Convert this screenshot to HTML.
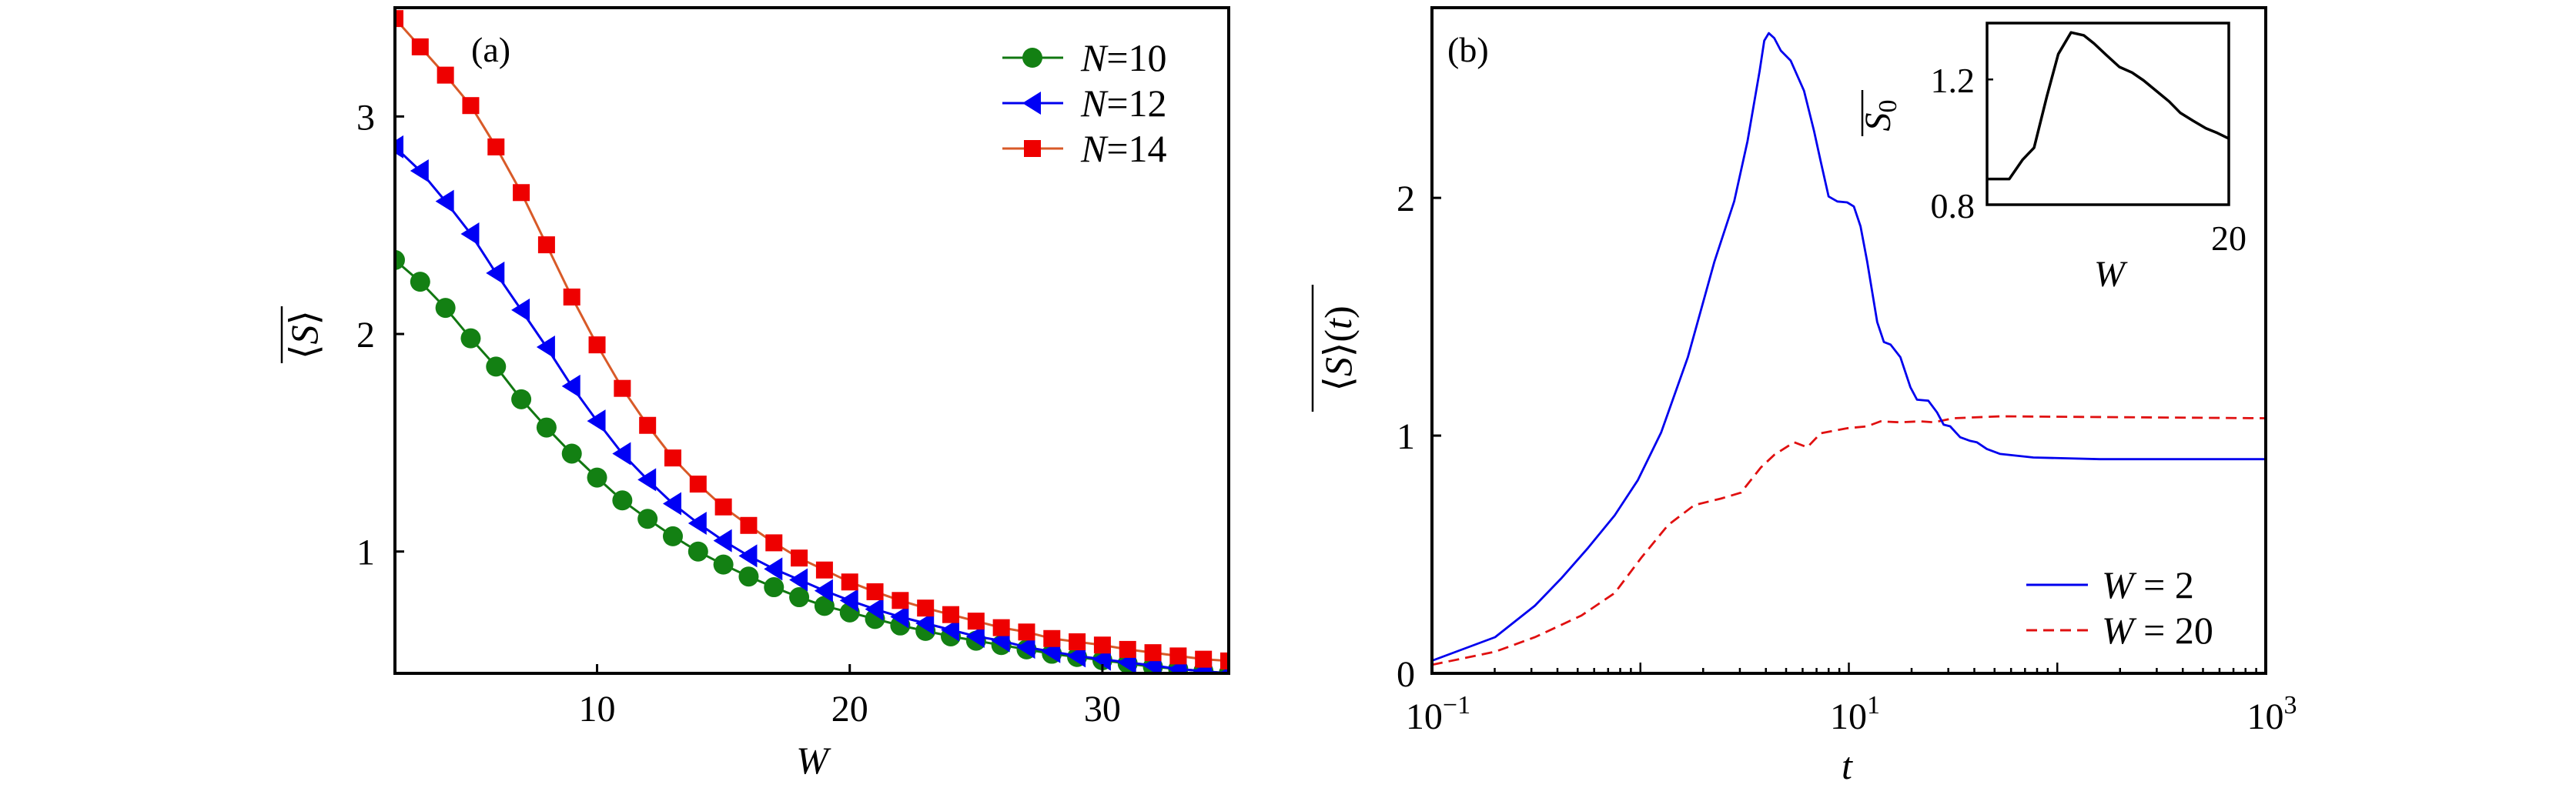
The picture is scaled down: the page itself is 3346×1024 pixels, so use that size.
<!DOCTYPE html>
<html><head><meta charset="utf-8"><style>
html,body{margin:0;padding:0;background:#fff;}
svg{display:block;font-family:"Liberation Serif",serif;}
</style></head><body>
<svg id="fig" width="3346" height="1024" viewBox="0 0 3346 1024" xmlns="http://www.w3.org/2000/svg" font-family="Liberation Serif, serif">
<g id="pa"></g>
<g id="pb"></g>
<g id="pi"></g>
</svg>
<script>
// Panel (a) data
const wValues = [2,3,4,5,6,7,8,9,10,11,12,13,14,15,16,17,18,19,20,21,22,23,24,25,26,27,28,29,30,31,32,33,34,35];
const sN10 = [2.34,2.24,2.12,1.98,1.85,1.70,1.57,1.45,1.34,1.235,1.15,1.07,1.0,0.94,0.885,0.836,0.79,0.75,0.72,0.69,0.66,0.635,0.61,0.59,0.57,0.55,0.53,0.515,0.50,0.485,0.47,0.46,0.45,0.44];
const sN12 = [2.86,2.75,2.61,2.46,2.28,2.11,1.94,1.76,1.60,1.45,1.33,1.22,1.13,1.05,0.98,0.92,0.87,0.82,0.775,0.735,0.70,0.67,0.64,0.61,0.59,0.56,0.54,0.52,0.505,0.49,0.476,0.46,0.45,0.44];
const sN14 = [3.45,3.32,3.19,3.05,2.86,2.65,2.41,2.17,1.95,1.75,1.58,1.43,1.31,1.205,1.12,1.04,0.97,0.915,0.86,0.815,0.775,0.74,0.71,0.68,0.65,0.63,0.60,0.585,0.57,0.55,0.535,0.52,0.505,0.497];
const aXTicks = [10,20,30];
const aYTicks = [1,2,3];
// Panel (b) data (log10 t, value)
const bLogT = [-1,-0.697,-0.506,-0.378,-0.251,-0.123,-0.012,0.100,0.228,0.355,0.450,0.514,0.572,0.594,0.616,0.642,0.674,0.721,0.785,0.833,0.865,0.903,0.945,0.992,1.024,1.056,1.088,1.136,1.168,1.200,1.247,1.295,1.327,1.381,1.423,1.455,1.486,1.534,1.582,1.614,1.662,1.726,1.885,2.204,3.0];
const bW2 = [0.053,0.152,0.285,0.401,0.528,0.665,0.813,1.014,1.331,1.732,1.986,2.239,2.534,2.661,2.693,2.672,2.619,2.577,2.450,2.281,2.154,2.006,1.985,1.981,1.964,1.880,1.732,1.478,1.394,1.383,1.330,1.204,1.151,1.147,1.098,1.046,1.039,0.993,0.978,0.972,0.944,0.923,0.908,0.901,0.901];
const rLogT = [-1,-0.697,-0.506,-0.283,-0.123,0.004,0.132,0.259,0.387,0.482,0.578,0.642,0.737,0.801,0.865,0.992,1.088,1.152,1.247,1.343,1.407,1.502,1.726,3.0];
const bW20 = [0.036,0.091,0.152,0.243,0.338,0.486,0.623,0.708,0.735,0.760,0.866,0.919,0.972,0.951,1.010,1.031,1.039,1.060,1.056,1.060,1.056,1.073,1.081,1.073];
const bYTicks = [0,1,2];
const bXDecades = [-1,1,3];
// Inset data
const insetW = [1,2.75,3.8,4.7,5.7,6.6,7.6,8.6,9.4,10.4,11.4,12.4,13.3,14.4,15.3,16.2,17.2,18.2,19.1,20];
const insetS = [0.882,0.882,0.944,0.982,1.146,1.281,1.350,1.341,1.315,1.277,1.240,1.222,1.197,1.160,1.130,1.093,1.068,1.044,1.029,1.011];
const insetYTicks = [0.8,1.2];
const insetXTicks = [20];

const NS="http://www.w3.org/2000/svg";
function mk(parent,tag,attrs,text){const e=document.createElementNS(NS,tag);for(const k in attrs)e.setAttribute(k,attrs[k]);if(text!==undefined)e.textContent=text;parent.appendChild(e);return e;}

// ---------- Panel A ----------
const pa=document.getElementById('pa');
const A={l:513,r:1596,t:10,b:875,x0:2,x1:35,y0:0.44,y1:3.5};
const ax=v=>A.l+(v-A.x0)/(A.x1-A.x0)*(A.r-A.l);
const ay=v=>A.b-(v-A.y0)/(A.y1-A.y0)*(A.b-A.t);
function poly(arrX,arrY,fx,fy){return arrX.map((x,i)=>fx(x).toFixed(1)+','+fy(arrY[i]).toFixed(1)).join(' ');}
const cpA=mk(pa,'clipPath',{id:'cpa'});mk(cpA,'rect',{x:A.l,y:A.t,width:A.r-A.l,height:A.b-A.t});
const gA=mk(pa,'g',{'clip-path':'url(#cpa)'});
const series=[{d:sN10,m:'#138013',lc:'#117711',type:'circle',name:'series-n10'},{d:sN12,m:'#0000f5',lc:'#0000ee',type:'tri',name:'series-n12'},{d:sN14,m:'#ee0000',lc:'#d85a28',type:'square',name:'series-n14'}];
function marker(g,type,x,y,col){
  if(type==='circle')return mk(g,'circle',{cx:x,cy:y,r:13,fill:col});
  if(type==='square')return mk(g,'rect',{x:x-11,y:y-11,width:22,height:22,fill:col});
  return mk(g,'polygon',{points:`${x-13},${y} ${x+11},${y-15} ${x+11},${y+15}`,fill:col});
}
series.forEach(s=>{
  const g=mk(gA,'g',{});
  
  
  const l=mk(g,'polyline',{points:poly(wValues,s.d,ax,ay),fill:'none',stroke:s.lc,'stroke-width':3});
  
  
  wValues.forEach((w,i)=>{const m=marker(g,s.type,ax(w),ay(s.d[i]),s.m);
    
    });
});
const frA=mk(pa,'rect',{x:A.l,y:A.t,width:A.r-A.l,height:A.b-A.t,fill:'none',stroke:'#000','stroke-width':4});


aXTicks.forEach(v=>{const x=ax(v);mk(pa,'line',{x1:x,x2:x,y1:A.b,y2:A.b-12,stroke:'#000','stroke-width':3});
  const t=mk(pa,'text',{x:x,y:A.b+62,'font-size':48,'text-anchor':'middle'},String(v));
  
  });
aYTicks.forEach(v=>{const y=ay(v);mk(pa,'line',{x1:A.l,x2:A.l+12,y1:y,y2:y,stroke:'#000','stroke-width':3});
  const t=mk(pa,'text',{x:A.l-26,y:y+17,'font-size':48,'text-anchor':'end'},String(v));
  
  });
let t=mk(pa,'text',{x:1055,y:1005,'font-size':50,'font-style':'italic','text-anchor':'middle'},'W');

t=mk(pa,'text',{x:0,y:0,'font-size':50,'text-anchor':'middle',transform:'translate(412,435) rotate(-90)'});

mk(t,'tspan',{},'⟨');mk(t,'tspan',{'font-style':'italic'},'S');mk(t,'tspan',{},'⟩');
mk(pa,'line',{x1:366,x2:366,y1:398,y2:472,stroke:'#000','stroke-width':2.5});
t=mk(pa,'text',{x:612,y:80,'font-size':46},'(a)');

const legA=['10','12','14'];
series.forEach((s,i)=>{const y=75+i*59;const g=mk(pa,'g',{});
  
  
  mk(g,'line',{x1:1302,x2:1381,y1:y,y2:y,stroke:s.lc,'stroke-width':3});
  marker(g,s.type,1341,y,s.m);
  const tx=mk(g,'text',{x:1404,y:y+17,'font-size':50});
  mk(tx,'tspan',{'font-style':'italic'},'N');
  mk(tx,'tspan',{},'='+legA[i]);
});

// ---------- Panel B ----------
const pb=document.getElementById('pb');
const B={l:1860,r:2943,t:10,b:875,x0:-1,x1:3,y0:0,y1:2.8};
const bx=v=>B.l+(v-B.x0)/(B.x1-B.x0)*(B.r-B.l);
const by=v=>B.b-(v-B.y0)/(B.y1-B.y0)*(B.b-B.t);
const cpB=mk(pb,'clipPath',{id:'cpb'});mk(cpB,'rect',{x:B.l,y:B.t,width:B.r-B.l,height:B.b-B.t});
const gB=mk(pb,'g',{'clip-path':'url(#cpb)'});
let l=mk(gB,'polyline',{points:poly(rLogT,bW20,bx,by),fill:'none',stroke:'#e01010','stroke-width':2.8,'stroke-dasharray':'14,8'});

l=mk(gB,'polyline',{points:poly(bLogT,bW2,bx,by),fill:'none',stroke:'#0000ee','stroke-width':2.8,'stroke-linejoin':'round'});

const frB=mk(pb,'rect',{x:B.l,y:B.t,width:B.r-B.l,height:B.b-B.t,fill:'none',stroke:'#000','stroke-width':4});

for(let d=-1;d<3;d++){for(let k=1;k<10;k++){const x=bx(d+Math.log10(k));const len=k===1?14:7;
  mk(pb,'line',{x1:x,x2:x,y1:B.b,y2:B.b-len,stroke:'#000','stroke-width':2.5});}}
const sup={'-1':'−1','1':'1','3':'3'};
bXDecades.forEach(d=>{const x=bx(d);const tx=mk(pb,'text',{x:x+8,y:B.b+72,'font-size':48,'text-anchor':'middle'});
  
  
  mk(tx,'tspan',{},'10');mk(tx,'tspan',{'font-size':34,dy:-20},sup[d]);});
bYTicks.forEach(v=>{const y=by(v);mk(pb,'line',{x1:B.l,x2:B.l+12,y1:y,y2:y,stroke:'#000','stroke-width':3});
  const tx=mk(pb,'text',{x:B.l-22,y:y+17,'font-size':48,'text-anchor':'end'},String(v));
  
  });
t=mk(pb,'text',{x:2399,y:1012,'font-size':50,'font-style':'italic','text-anchor':'middle'},'t');

t=mk(pb,'text',{x:0,y:0,'font-size':50,'text-anchor':'middle',transform:'translate(1755,453) rotate(-90)'});

mk(t,'tspan',{},'⟨');mk(t,'tspan',{'font-style':'italic'},'S');mk(t,'tspan',{},'⟩(');mk(t,'tspan',{'font-style':'italic'},'t');mk(t,'tspan',{},')');
mk(pb,'line',{x1:1705,x2:1705,y1:370,y2:535,stroke:'#000','stroke-width':2.5});
t=mk(pb,'text',{x:1880,y:80,'font-size':46},'(b)');

[['2','#0000ee',null],['20','#e01010','14,8']].forEach((e,i)=>{const y=760+i*59;const g=mk(pb,'g',{});
  
  
  const a={x1:2632,x2:2712,y1:y,y2:y,stroke:e[1],'stroke-width':3};if(e[2])a['stroke-dasharray']=e[2];
  mk(g,'line',a);
  const tx=mk(g,'text',{x:2730,y:y+17,'font-size':50});
  mk(tx,'tspan',{'font-style':'italic'},'W');mk(tx,'tspan',{},' = '+e[0]);});

// ---------- Inset ----------
const pi=document.getElementById('pi');
const I={l:2581,r:2895,t:30,b:266,x0:1,x1:20,y0:0.8,y1:1.38};
const ix=v=>I.l+(v-I.x0)/(I.x1-I.x0)*(I.r-I.l);
const iy=v=>I.b-(v-I.y0)/(I.y1-I.y0)*(I.b-I.t);
mk(pi,'rect',{x:I.l,y:I.t,width:I.r-I.l,height:I.b-I.t,fill:'#fff'});
l=mk(pi,'polyline',{points:poly(insetW,insetS,ix,iy),fill:'none',stroke:'#000','stroke-width':3.5,'stroke-linejoin':'round'});

const frI=mk(pi,'rect',{x:I.l,y:I.t,width:I.r-I.l,height:I.b-I.t,fill:'none',stroke:'#000','stroke-width':3.5});

insetYTicks.forEach(v=>{const y=iy(v);mk(pi,'line',{x1:I.l,x2:I.l+8,y1:y,y2:y,stroke:'#000','stroke-width':2.5});
  const tx=mk(pi,'text',{x:I.l-16,y:y+17,'font-size':46,'text-anchor':'end'},v.toFixed(1));
  
  });
insetXTicks.forEach(v=>{const x=ix(v);
  const tx=mk(pi,'text',{x:x,y:325,'font-size':46,'text-anchor':'middle'},String(v));
  
  });
t=mk(pi,'text',{x:2740,y:372,'font-size':48,'font-style':'italic','text-anchor':'middle'},'W');

t=mk(pi,'text',{x:0,y:0,'font-size':48,'text-anchor':'middle',transform:'translate(2455,150) rotate(-90)'});

mk(t,'tspan',{'font-style':'italic'},'S');mk(t,'tspan',{'font-size':34,dy:8},'0');
mk(pi,'line',{x1:2419,x2:2419,y1:117,y2:177,stroke:'#000','stroke-width':2.5});
</script>
</body></html>
